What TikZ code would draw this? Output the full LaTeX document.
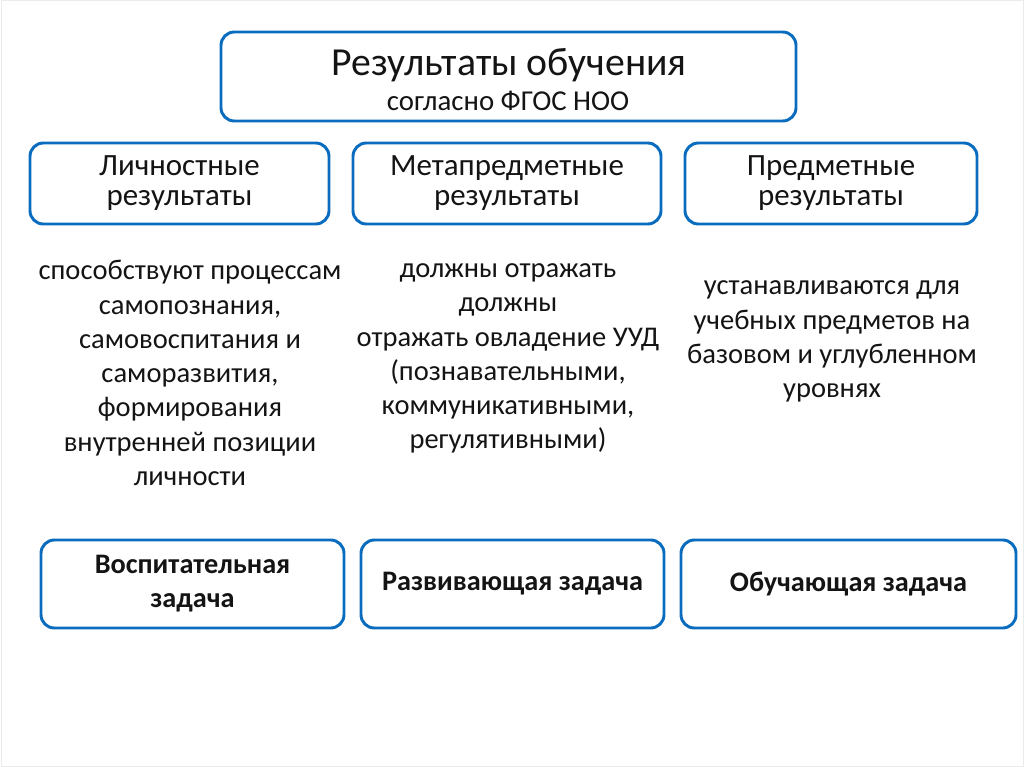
\documentclass[tikz,border=0pt]{standalone}
\usepackage{fontspec}
\setmainfont{Carlito}
\definecolor{bl}{HTML}{0A6CBF}
\definecolor{tx}{HTML}{141414}
\newcommand\myhdfont{\lineskiplimit=-20pt\relax\lineskip=0pt\relax\fontsize{23.2}{22.5}\selectfont}
\begin{document}
\begin{tikzpicture}[x=0.75pt,y=-0.75pt,
  box/.style={draw=bl, line width=2.2pt, rounded corners=10pt, fill=white, align=center, text=tx, inner sep=0pt},
  lbl/.style={align=center, text=tx, inner sep=0pt},
  body/.style={align=center, text=tx, inner sep=0pt, font=\fontsize{21.4}{25.7}\selectfont},
  hd/.style={font=\myhdfont},
  tk/.style={font=\bfseries\fontsize{21.2}{25.5}\selectfont}]
\useasboundingbox (0,0) rectangle (1024,767);
\draw[black!8, line width=0.75pt] (1,1) rectangle (1023,766);
\node[box, minimum width=431.25pt, minimum height=66.75pt] (top) at (508.5,76.5) {};
\node[lbl, font=\fontsize{29.8}{32}\selectfont] (toptitle) at (509,65) {Результаты обучения};
\node[lbl, font=\fontsize{21.6}{24}\selectfont] (topsub) at (508,101) {согласно ФГОС НОО};
\node[box, hd, minimum width=224.25pt, minimum height=60.75pt] (p1) at (179.5,183.5) {Личностные\\результаты};
\node[box, hd, minimum width=231pt, minimum height=60.75pt] (p2) at (507,183.5) {Метапредметные\\результаты};
\node[box, hd, minimum width=219pt, minimum height=60.75pt] (p3) at (831,183.5) {Предметные\\результаты};
\node[body] (t1) at (190,373) {способствуют процессам\\самопознания,\\самовоспитания и\\саморазвития,\\формирования\\внутренней позиции\\личности};
\node[body] (t2) at (508,358.5) {должны отражать\\должны\\отражать овладение УУД\\(познавательными,\\коммуникативными,\\регулятивными)};
\node[body] (t3) at (832,341.5) {устанавливаются для\\учебных предметов на\\базовом и углубленном\\уровнях};
\node[box, tk, minimum width=227.25pt, minimum height=66pt] (c1) at (192.5,584) {Воспитательная\\задача};
\node[box, tk, minimum width=227.25pt, minimum height=66pt] (c2) at (512.5,584) {Развивающая задача};
\node[box, tk, minimum width=251.25pt, minimum height=66pt] (c3) at (848.5,584) {Обучающая задача};
\end{tikzpicture}
\end{document}
